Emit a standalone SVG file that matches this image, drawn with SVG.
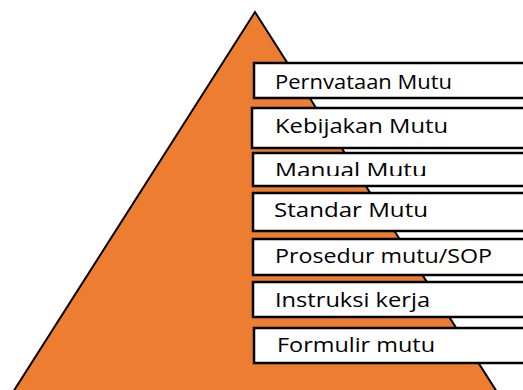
<svg xmlns="http://www.w3.org/2000/svg" width="523" height="390" viewBox="0 0 523 390">
<style>
.box{fill:#fff;stroke:#000;stroke-width:2.5}
.t{font-family:"Open Sans","Noto Sans","DejaVu Sans",sans-serif;font-size:20px;fill:#000}
</style>
<defs>
<clipPath id="c1"><rect x="255" y="60" width="268" height="29"/></clipPath>
<clipPath id="c3"><rect x="255" y="150" width="268" height="26"/></clipPath>
</defs>
<rect width="523" height="390" fill="#fff"/>
<g id="pyramid">
<polygon points="255,12 13,392 497,392" fill="#ED7D31" stroke="#000" stroke-width="2"/>
</g>
<g id="n1"><rect class="box" x="254" y="63" width="280" height="35"/><text class="t" x="275" y="89" textLength="177" lengthAdjust="spacingAndGlyphs" clip-path="url(#c1)">Pernyataan Mutu</text></g>
<g id="n2"><rect class="box" x="252" y="108" width="282" height="40"/><text class="t" x="275" y="133" textLength="173" lengthAdjust="spacingAndGlyphs">Kebijakan Mutu</text></g>
<g id="n3"><rect class="box" x="253" y="153" width="281" height="33"/><text class="t" x="275" y="177" textLength="152" lengthAdjust="spacingAndGlyphs" clip-path="url(#c3)">Manual Mutu</text></g>
<g id="n4"><rect class="box" x="253" y="193" width="281" height="38"/><text class="t" x="274" y="217" textLength="154" lengthAdjust="spacingAndGlyphs">Standar Mutu</text></g>
<g id="n5"><rect class="box" x="253" y="239" width="281" height="36"/><text class="t" x="275" y="263" textLength="217" lengthAdjust="spacingAndGlyphs">Prosedur mutu/SOP</text></g>
<g id="n6"><rect class="box" x="253" y="282" width="281" height="35"/><text class="t" x="275" y="307" textLength="155" lengthAdjust="spacingAndGlyphs">Instruksi kerja</text></g>
<g id="n7"><rect class="box" x="254" y="328" width="280" height="35"/><text class="t" x="277" y="352" textLength="158" lengthAdjust="spacingAndGlyphs">Formulir mutu</text></g>
</svg>
